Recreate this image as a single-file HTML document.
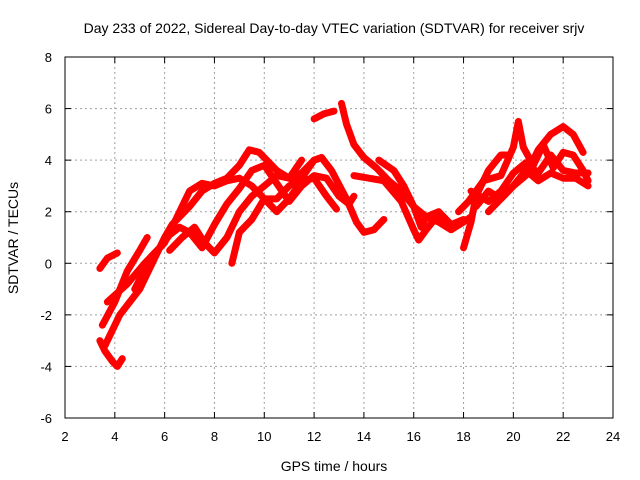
<!DOCTYPE html>
<html><head><meta charset="utf-8"><style>
body{margin:0;background:#fff}
svg{display:block;font-family:"Liberation Sans",sans-serif}
</style></head><body>
<svg id="chart" width="640" height="480">
<rect width="640" height="480" fill="#fff"/>
<text x="334" y="33" font-size="14" text-anchor="middle">Day 233 of 2022, Sidereal Day-to-day VTEC variation (SDTVAR) for receiver srjv</text>
<text x="334" y="471" font-size="14" text-anchor="middle">GPS time / hours</text>
<text transform="translate(18,238) rotate(-90)" font-size="14" text-anchor="middle">SDTVAR / TECUs</text>
<g id="grid"></g><g id="ticks"></g><g id="series"></g>
<rect x="65" y="57" width="548" height="361" fill="none" stroke="#000" stroke-width="1"/>
</svg>
<script>
const xTicks=[2,4,6,8,10,12,14,16,18,20,22,24];
const yTicks=[-6,-4,-2,0,2,4,6,8];
const t1=[[3.4,-0.2],[3.7,0.2],[4.1,0.4]];
const t2=[[3.4,-3.0],[3.6,-3.4],[3.9,-3.8],[4.1,-4.0],[4.3,-3.7]];
const t3=[[3.5,-2.4],[4.0,-1.5],[4.5,-0.3],[5.0,0.5],[5.3,1.0]];
const t4=[[3.6,-3.2],[4.2,-2.0],[5,-1],[5.6,0.2],[6,1],[6.3,1.5],[7,2.2],[7.5,2.8],[8,3.1],[8.5,3.3],[9,3.8],[9.4,4.4],[9.8,4.3],[10.5,3.6],[11,3.3],[11.5,3.5],[12,4.0],[12.3,4.1],[12.7,3.6],[13.3,2.5],[13.7,1.6],[14,1.2],[14.4,1.3],[14.8,1.7]];
const t5=[[3.7,-1.5],[4.5,-0.8],[5.2,0],[5.8,0.6],[6.2,1.1],[6.6,1.4],[7,1.2],[7.5,0.6],[8,1.5],[8.5,2.3],[9,2.9],[9.5,3.6],[10,3.8],[10.5,3.1],[11,2.4],[11.5,3.0],[12,3.4],[12.5,3.3],[13,2.6],[13.4,2.3],[13.6,2.6]];
const t6=[[4.8,-1],[5.5,0.3],[6,0.8],[6.5,1.8],[7,2.8],[7.5,3.1],[8,3.0],[8.5,3.2],[9,3.3],[9.5,3.0],[10,2.5],[10.5,2.0],[11,2.5],[11.5,3.2],[12,3.3],[12.5,2.6],[12.9,2.1]];
const t7=[[6.2,0.5],[6.7,1.0],[7.2,1.4],[7.6,0.8],[8,0.4],[8.5,1.0],[9.0,2.0],[9.5,2.6],[10,3.0],[10.5,3.4],[11,3.3],[11.5,4.0]];
const t8=[[8.7,0],[9.0,1.2],[9.5,1.7],[10,2.5],[10.5,2.5],[11,3],[11.5,3.3],[12,4],[12.3,4.1]];
const t9=[[12,5.6],[12.4,5.8],[12.8,5.9]];
const t10=[[13.1,6.2],[13.3,5.4],[13.6,4.6],[14,4.1],[14.5,3.7],[15,3.2],[15.5,2.8],[16,2.2],[16.3,1.4],[16.5,1.8],[17,1.6],[17.5,1.3],[18,1.6],[18.3,1.8]];
const t11=[[13.6,3.4],[14.2,3.3],[14.8,3.2],[15.5,2.4],[16,1.3],[16.2,0.9],[16.5,1.3],[17,1.9],[17.5,1.5]];
const t12=[[14.6,4.0],[15.2,3.6],[15.6,3.0],[16,2.2],[16.5,1.8],[17,2.0],[17.5,1.5],[18,1.7]];
const t13=[[18,0.6],[18.3,1.6],[18.5,2.6],[19,3.6],[19.5,4.2],[19.8,4.2]];
const t14=[[17.8,2.0],[18.2,2.4],[18.8,3.2],[19.5,3.4],[20,4.5],[20.2,5.5],[20.4,4.5],[20.8,3.8],[21.2,4.6],[21.6,3.7],[22,4.3],[22.4,4.2],[22.8,3.6],[23,3.2]];
const t15=[[18.5,2.2],[19,2.8],[19.5,2.5],[20,3.0],[20.5,3.4],[21,4.4],[21.5,5.0],[22,5.3],[22.4,5.0],[22.8,4.3]];
const t16=[[18.3,2.8],[19,2.4],[19.5,2.8],[20,3.5],[20.5,3.9],[21,3.5],[21.5,4.2],[22,3.6],[22.5,3.5],[23,3.5]];
const t17=[[19,2.0],[19.6,2.6],[20,3.0],[20.5,3.6],[21,3.2],[21.5,3.5],[22,3.3],[22.5,3.3],[23,3.0]];
const tracks=[t1,t2,t3,t4,t5,t6,t7,t8,t9,t10,t11,t12,t13,t14,t15,t16,t17];
const NS="http://www.w3.org/2000/svg";
function sx(v){return 65+(v-2)*548/22;}
function sy(v){return 418-(v+6)*361/14;}
function mk(tag,a,p){const e=document.createElementNS(NS,tag);for(const k in a)e.setAttribute(k,a[k]);p.appendChild(e);return e;}
const grid=document.getElementById('grid'),ticks=document.getElementById('ticks'),ser=document.getElementById('series');
xTicks.forEach(v=>{const x=sx(v);
 if(v>2&&v<24){const g=mk('line',{x1:x,x2:x,y1:57,y2:418,stroke:'#a0a0a0','stroke-dasharray':'2,3'},grid);
 
 }
 mk('line',{x1:x,x2:x,y1:418,y2:412,stroke:'#000'},ticks);mk('line',{x1:x,x2:x,y1:57,y2:63,stroke:'#000'},ticks);
 const t=mk('text',{x:x,y:441,'font-size':13,'text-anchor':'middle'},ticks);t.textContent=v;
 
 });
yTicks.forEach(v=>{const y=sy(v);
 if(v>-6&&v<8){const g=mk('line',{x1:65,x2:613,y1:y,y2:y,stroke:'#a0a0a0','stroke-dasharray':'2,3'},grid);
 
 }
 mk('line',{x1:65,x2:71,y1:y,y2:y,stroke:'#000'},ticks);mk('line',{x1:613,x2:607,y1:y,y2:y,stroke:'#000'},ticks);
 const t=mk('text',{x:52,y:y+5,'font-size':13,'text-anchor':'end'},ticks);t.textContent=v;
 
 });
tracks.forEach((tr,i)=>{
 const p=mk('polyline',{points:tr.map(d=>sx(d[0])+','+sy(d[1])).join(' '),fill:'none',stroke:'#ff0000','stroke-width':7,'stroke-linejoin':'round','stroke-linecap':'round'},ser);
 
 
});
</script>
</body></html>
